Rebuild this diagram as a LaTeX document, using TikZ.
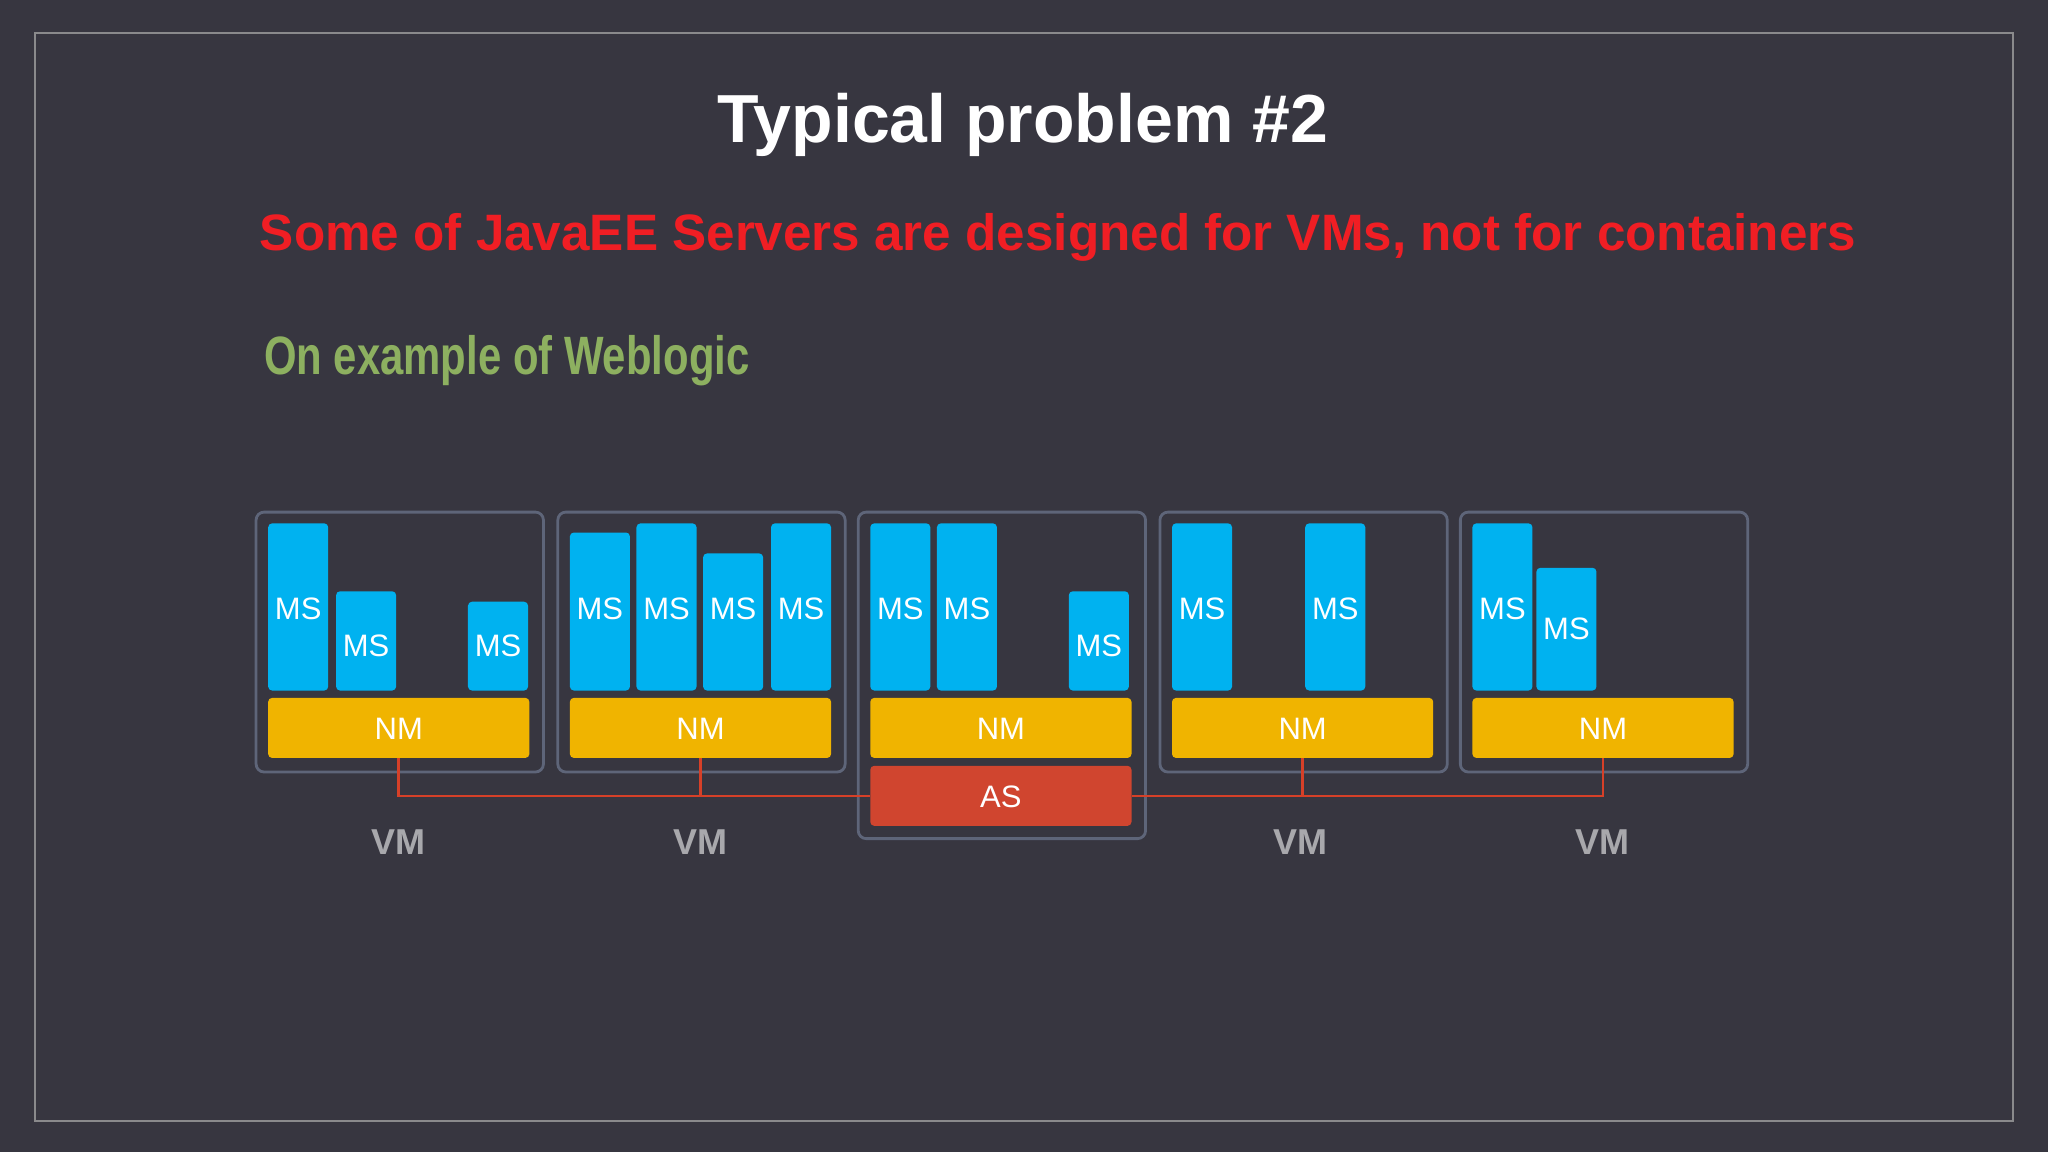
\documentclass[tikz,border=0pt]{standalone}
\usepackage{fontspec}
\setmainfont{Liberation Sans}
\definecolor{bg}{RGB}{55,54,64}
\definecolor{framegray}{RGB}{138,138,140}
\definecolor{vmborder}{RGB}{94,101,121}
\definecolor{msblue}{RGB}{0,178,240}
\definecolor{nmyellow}{RGB}{240,180,0}
\definecolor{asred}{RGB}{208,69,47}
\definecolor{connred}{RGB}{214,64,40}
\definecolor{titlered}{RGB}{240,30,36}
\definecolor{subgreen}{RGB}{141,176,96}
\definecolor{vmgray}{RGB}{168,168,172}
\def\pxu{0.6531pt}
\tikzset{
  vmbox/.style={draw=vmborder, line width=1.4pt, rounded corners=4pt, inner sep=0pt, anchor=north west, minimum width=220*\pxu},
  msbox/.style={fill=msblue, rounded corners=2pt, inner sep=0pt, anchor=south west, minimum width=46*\pxu, text=white, font=\fontsize{15.5}{16}\selectfont, text height=12.8pt, text depth=0pt},
  mslow/.style={text height=15.7pt, text depth=0pt},
  msup/.style={text height=10.8pt, text depth=#1},
  nmbox/.style={fill=nmyellow, rounded corners=2pt, inner sep=0pt, anchor=north west, minimum width=200*\pxu, minimum height=46*\pxu, text=white, font=\fontsize{15.5}{16}\selectfont, text height=12pt, text depth=0pt},
  asbox/.style={fill=asred, rounded corners=2pt, inner sep=0pt, anchor=north west, minimum width=200*\pxu, minimum height=46*\pxu, text=white, font=\fontsize{15.5}{16}\selectfont, text height=12pt, text depth=0pt},
  vmlabel/.style={text=vmgray, anchor=base, font=\bfseries\fontsize{18}{20}\selectfont},
  conn/.style={draw=connred, line width=1.3pt}
}
\begin{document}
\begin{tikzpicture}[x=0.6531pt,y=-0.6531pt]
\fill[bg] (0,0) rectangle (1568,882);
\useasboundingbox (0,0) rectangle (1568,882);
\draw[framegray, line width=1pt] (27,25) rectangle (1541,858);

\node[text=white, anchor=base, font=\bfseries\fontsize{34}{40}\selectfont] (title) at (783,109) {Typical problem \#2};
\node[text=titlered, anchor=base, font=\bfseries\fontsize{25.6}{30}\selectfont] (sub) at (810,192) {Some of JavaEE Servers are designed for VMs, not for containers};
\node[text=subgreen, anchor=base west, inner sep=0pt, font=\bfseries\fontsize{27}{30}\selectfont] (ex) at (202,287) {\scalebox{0.775}[1]{On example of Weblogic}};

% VM boxes
\node[vmbox, minimum height=199*\pxu] (vm1) at (195,391) {};
\node[vmbox, minimum height=199*\pxu] (vm2) at (426,391) {};
\node[vmbox, minimum height=250*\pxu] (vm3) at (656,391) {};
\node[vmbox, minimum height=199*\pxu] (vm4) at (887,391) {};
\node[vmbox, minimum height=199*\pxu] (vm5) at (1117,391) {};

% NM and AS
\node[asbox] (as) at (666,586) {AS};
\node[nmbox] (nm1) at (205,534) {NM};
\node[nmbox] (nm2) at (436,534) {NM};
\node[nmbox] (nm3) at (666,534) {NM};
\node[nmbox] (nm4) at (897,534) {NM};
\node[nmbox] (nm5) at (1127,534) {NM};

% connectors
\draw[conn] (nm1.south) |- (as.west);
\draw[conn] (nm2.south) -- (nm2.south |- as.west);
\draw[conn] (nm5.south) |- (as.east);
\draw[conn] (nm4.south) -- (nm4.south |- as.east);

% MS boxes
\node[msbox, minimum height=128*\pxu] (m11) at (205,529) {MS};
\node[msbox, mslow, minimum height=76*\pxu] (m12) at (257,529) {MS};
\node[msbox, msup=0.7pt, minimum height=68*\pxu] (m13) at (358,529) {MS};

\node[msbox, msup=2.9pt, minimum height=121*\pxu] (m21) at (436,529) {MS};
\node[msbox, minimum height=128*\pxu] (m22) at (487,529) {MS};
\node[msbox, msup=13.3pt, minimum height=105*\pxu] (m23) at (538,529) {MS};
\node[msbox, minimum height=128*\pxu] (m24) at (590,529) {MS};

\node[msbox, minimum height=128*\pxu] (m31) at (666,529) {MS};
\node[msbox, minimum height=128*\pxu] (m32) at (717,529) {MS};
\node[msbox, mslow, minimum height=76*\pxu] (m33) at (818,529) {MS};

\node[msbox, minimum height=128*\pxu] (m41) at (897,529) {MS};
\node[msbox, minimum height=128*\pxu] (m42) at (999,529) {MS};

\node[msbox, minimum height=128*\pxu] (m51) at (1127,529) {MS};
\node[msbox, msup=0.5pt, minimum height=94*\pxu] (m52) at (1176,529) {MS};

% VM labels
\node[vmlabel] (l1) at (305,654.5) {VM};
\node[vmlabel] (l2) at (536,654.5) {VM};
\node[vmlabel] (l4) at (996,654.5) {VM};
\node[vmlabel] (l5) at (1227,654.5) {VM};
\end{tikzpicture}
\end{document}
